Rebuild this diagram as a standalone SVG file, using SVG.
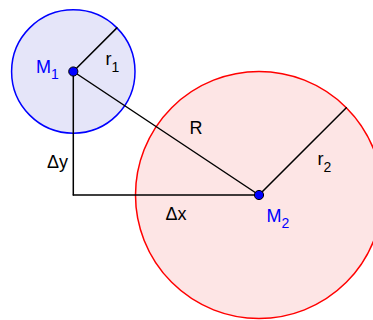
<svg xmlns="http://www.w3.org/2000/svg" width="373" height="320" viewBox="0 0 373 320">
<style>
.ln{stroke:#000;stroke-width:1.5;fill:none;stroke-linecap:round}
.t{font-family:"Liberation Sans",Arial,sans-serif;font-size:18px;fill:#000}
.b{fill:#0000ff}
.s{font-size:14px}
.dot{fill:#0000ff;stroke:#000;stroke-width:1}
</style>
<rect width="373" height="320" fill="#fff"/>
<g id="circle2">
<circle cx="259" cy="195" r="123.5" fill="#fde5e5" stroke="#ff0000" stroke-width="1.5"/>
</g>
<g id="circle1">
<circle cx="73.3" cy="71.5" r="61.7" fill="#e5e5f9" stroke="#0000ff" stroke-width="1.5"/>
</g>
<g id="connectors">
<line class="ln" x1="73.3" y1="71.5" x2="116.9" y2="27.9"/>
<line class="ln" x1="73.3" y1="71.5" x2="259" y2="195"/>
<line class="ln" x1="73.3" y1="71.5" x2="73.3" y2="195"/>
<line class="ln" x1="73.3" y1="195" x2="259" y2="195"/>
<line class="ln" x1="259" y1="195" x2="346.3" y2="107.7"/>
</g>
<g id="M1">
<circle class="dot" cx="73.3" cy="71.5" r="4.6"/>
<text class="t b" x="36" y="72.5">M<tspan class="s" y="79">1</tspan></text>
</g>
<g id="M2">
<circle class="dot" cx="259" cy="195" r="4.6"/>
<text class="t b" x="266.5" y="221.5">M<tspan class="s" y="228">2</tspan></text>
</g>
<g id="labels">
<text class="t" x="105.5" y="65">r<tspan class="s" y="72">1</tspan></text>
<text class="t" x="189.5" y="134">R</text>
<text class="t" x="47" y="168">Δy</text>
<text class="t" x="165.5" y="220">Δx</text>
<text class="t" x="317.5" y="165">r<tspan class="s" y="172">2</tspan></text>
</g>
</svg>
